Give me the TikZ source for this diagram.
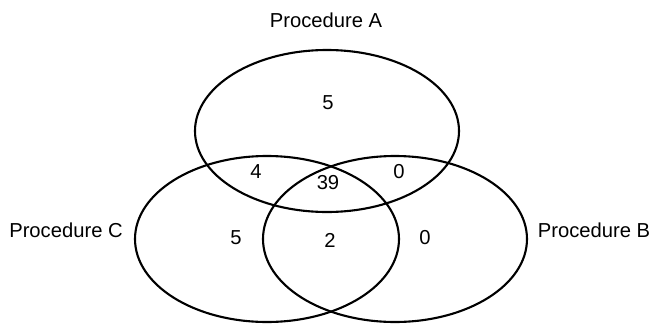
\documentclass[tikz,border=0pt]{standalone}
\usepackage{fontspec}
\setmainfont{Liberation Sans}
\begin{document}
\begin{tikzpicture}[x=0.02cm, y=0.02cm, line cap=round, line join=round,
  setline/.style={line width=1.2pt, black},
  lbl/.style={font=\fontsize{11.5}{13}\selectfont, inner sep=0pt},
  num/.style={font=\fontsize{11.5}{13}\selectfont, inner sep=0pt}]
  \useasboundingbox (0,0) rectangle (654,326);
  \draw[setline] (327,195) ellipse [x radius=132, y radius=81];
  \draw[setline] (267,87) ellipse [x radius=132, y radius=83];
  \draw[setline] (395,87) ellipse [x radius=132, y radius=83];
  \node[lbl] (procA) at (326,306) {Procedure A};
  \node[lbl] (procC) at (66,96) {Procedure C};
  \node[lbl] (procB) at (594,96) {Procedure B};
  \node[num] (onlyA) at (328,223) {5};
  \node[num] (AC) at (256,154) {4};
  \node[num] (ABC) at (328,143) {39};
  \node[num] (AB) at (399,154) {0};
  \node[num] (onlyC) at (236,88) {5};
  \node[num] (BC) at (330,86) {2};
  \node[num] (onlyB) at (425,88) {0};
\end{tikzpicture}
\end{document}
